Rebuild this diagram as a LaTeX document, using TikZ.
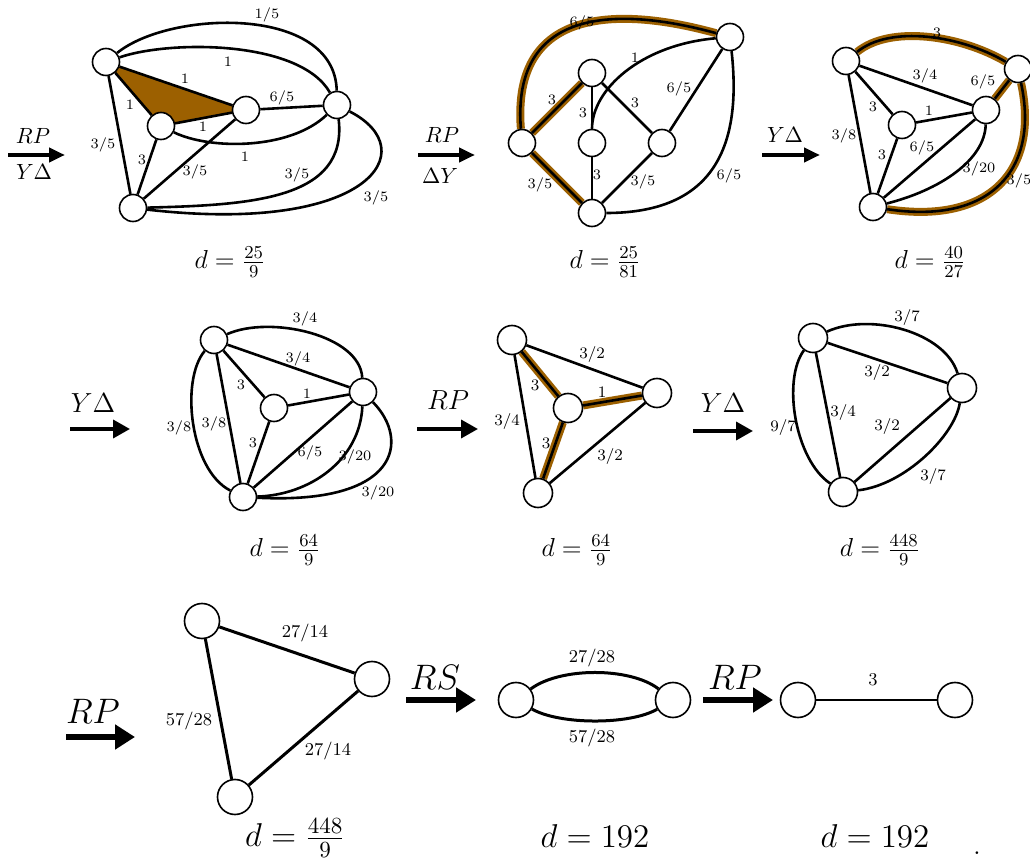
\RequirePackage{fix-cm}
\documentclass[tikz,border=0pt]{standalone}
\usetikzlibrary{arrows.meta,backgrounds}
\definecolor{brownhl}{RGB}{156,96,0}
\begin{document}
\begin{tikzpicture}[x=0.5pt,y=-0.5pt,
  v/.style={circle,draw,fill=white,line width=0.8pt,inner sep=0pt,minimum size=13.5pt},
  vb/.style={v,minimum size=14.5pt},
  vc/.style={v,minimum size=17.5pt},
  e/.style={line width=1.3pt},
  ec/.style={line width=1.5pt},
  hl/.style={draw=brownhl,line width=4pt},
  la/.style={font=\fontsize{7.2}{8}\selectfont,inner sep=0pt},
  lb/.style={font=\fontsize{8}{9}\selectfont,inner sep=0pt},
  lc/.style={font=\fontsize{9}{10}\selectfont,inner sep=0pt},
  opa/.style={font=\fontsize{11}{13}\selectfont,inner sep=0pt},
  opb/.style={font=\fontsize{13.8}{16}\selectfont,inner sep=0pt},
  opc/.style={font=\fontsize{17.7}{20}\selectfont,inner sep=0pt},
  ra/.style={-{Triangle[length=8pt,width=7pt]},line width=2pt},
  rb/.style={-{Triangle[length=8.5pt,width=9pt]},line width=1.8pt},
  rc/.style={-{Triangle[length=10pt,width=12pt]},line width=3pt},
  dl/.style={font=\fontsize{13}{15}\selectfont,inner sep=0pt},
  dc/.style={font=\fontsize{16.5}{19}\selectfont,inner sep=0pt}]
\useasboundingbox (0,0) rectangle (1030,861);

% ---------- Row 1, graph 1 ----------
\node[v] (a1) at (106,62) {};
\node[v] (b1) at (161,126) {};
\node[v] (c1) at (246,110) {};
\node[v] (d1) at (337,105) {};
\node[v] (e1) at (133,208) {};
\begin{scope}[on background layer]
\fill[brownhl] (a1.center) -- (b1.center) -- (c1.center) -- cycle;
\draw[e] (a1) -- (c1);
\draw[e] (a1) -- (b1);
\draw[e] (b1) -- (c1);
\draw[e] (a1) -- (e1);
\draw[e] (b1) -- (e1);
\draw[e] (c1) -- (e1);
\draw[e] (c1) -- (d1);
\draw[e] (a1) .. controls (170,10) and (335,5) .. (d1);
\draw[e] (a1) .. controls (170,40) and (300,40) .. (d1);
\draw[e] (b1) .. controls (210,150) and (290,150) .. (d1);
\draw[e] (d1) .. controls (348,200) and (250,205) .. (e1);
\draw[e] (d1) .. controls (425,150) and (370,235) .. (e1);
\end{scope}
\node[la] (l1a) at (267,15) {1/5};
\node[la] (l1b) at (228,62) {1};
\node[la] (l1c) at (185,79) {1};
\node[la] (l1d) at (130,105) {1};
\node[la] (l1e) at (282,98) {6/5};
\node[la] (l1f) at (203,127) {1};
\node[la] (l1g) at (245,157) {1};
\node[la] (l1h) at (103,145) {3/5};
\node[la] (l1i) at (142,160) {3};
\node[la] (l1j) at (195,172) {3/5};
\node[la] (l1k) at (297,175) {3/5};
\node[la] (l1l) at (376,198) {3/5};

% ---------- Row 1, graph 2 ----------
\node[v] (l2) at (522,143) {};
\node[v] (t2) at (592,73) {};
\node[v] (m2) at (592,143) {};
\node[v] (r2) at (662,143) {};
\node[v] (q2) at (730,37) {};
\node[v] (b2) at (592,213) {};
\begin{scope}[on background layer]
\draw[hl] (l2) .. controls (510,-10) and (650,15) .. (q2);
\draw[hl] (l2) -- (t2);
\draw[hl] (l2) -- (b2);
\draw[e] (l2) .. controls (510,-10) and (650,15) .. (q2);
\draw[e] (l2) -- (t2);
\draw[e] (l2) -- (b2);
\draw[e] (t2) -- (m2);
\draw[e] (t2) -- (r2);
\draw[e] (m2) -- (b2);
\draw[e] (r2) -- (q2);
\draw[e] (r2) -- (b2);
\draw[e] (m2) .. controls (592,90) and (640,45) .. (q2);
\draw[e] (b2) .. controls (715,213) and (742,145) .. (q2);
\end{scope}
\node[la] (l2a) at (582,23) {6/5};
\node[la] (l2b) at (635,58) {1};
\node[la] (l2c) at (552,100) {3};
\node[la] (l2d) at (583,113) {3};
\node[la] (l2e) at (635,103) {3};
\node[la] (l2f) at (679,89) {6/5};
\node[la] (l2g) at (540,185) {3/5};
\node[la] (l2h) at (597,175) {3};
\node[la] (l2i) at (643,182) {3/5};
\node[la] (l2j) at (729,176) {6/5};

% ---------- Row 1, graph 3 ----------
\node[v] (p3) at (846,61) {};
\node[v] (i3) at (902,125) {};
\node[v] (c3) at (986,110) {};
\node[v] (r3) at (1018,69) {};
\node[v] (b3) at (873,207) {};
\begin{scope}[on background layer]
\draw[hl] (p3) .. controls (890,25) and (960,35) .. (r3);
\draw[hl] (c3) -- (r3);
\draw[hl] (r3) .. controls (1040,170) and (990,225) .. (b3);
\draw[e] (p3) .. controls (890,25) and (960,35) .. (r3);
\draw[e] (c3) -- (r3);
\draw[e] (r3) .. controls (1040,170) and (990,225) .. (b3);
\draw[e] (p3) -- (c3);
\draw[e] (p3) -- (i3);
\draw[e] (p3) -- (b3);
\draw[e] (i3) -- (c3);
\draw[e] (i3) -- (b3);
\draw[e] (c3) -- (b3);
\draw[e] (c3) .. controls (985,160) and (940,190) .. (b3);
\end{scope}
\node[la] (l3a) at (937,33) {3};
\node[la] (l3b) at (925,76) {3/4};
\node[la] (l3c) at (983,82) {6/5};
\node[la] (l3d) at (873,107) {3};
\node[la] (l3e) at (929,111) {1};
\node[la] (l3f) at (844,136) {3/8};
\node[la] (l3g) at (882,155) {3};
\node[la] (l3h) at (922,148) {6/5};
\node[la] (l3i) at (979,169) {3/20};
\node[la] (l3j) at (1019,181) {3/5};

% ---------- Row 2, graph 4 ----------
\node[v] (p4) at (214,340) {};
\node[v] (i4) at (274,408) {};
\node[v] (r4) at (363,392) {};
\node[v] (b4) at (243,497) {};
\begin{scope}[on background layer]
\draw[e] (p4) .. controls (270,315) and (360,335) .. (r4);
\draw[e] (p4) -- (r4);
\draw[e] (p4) -- (i4);
\draw[e] (p4) -- (b4);
\draw[e] (p4) .. controls (180,380) and (190,470) .. (b4);
\draw[e] (i4) -- (r4);
\draw[e] (i4) -- (b4);
\draw[e] (r4) -- (b4);
\draw[e] (r4) .. controls (360,460) and (310,495) .. (b4);
\draw[e] (r4) .. controls (410,440) and (400,505) .. (b4);
\end{scope}
\node[la] (l4a) at (305,319) {3/4};
\node[la] (l4b) at (298,359) {3/4};
\node[la] (l4c) at (241,385) {3};
\node[la] (l4d) at (307,394) {1};
\node[la] (l4e) at (179,428) {3/8};
\node[la] (l4f) at (214,424) {3/8};
\node[la] (l4g) at (253,443) {3};
\node[la] (l4h) at (310,453) {6/5};
\node[la] (l4i) at (355,457) {3/20};
\node[la] (l4j) at (378,493) {3/20};

% ---------- Row 2, graph 5 ----------
\node[vb] (p5) at (512,340) {};
\node[vb] (i5) at (568,408) {};
\node[vb] (r5) at (657,393) {};
\node[vb] (b5) at (538,493) {};
\begin{scope}[on background layer]
\draw[hl] (p5) -- (i5);
\draw[hl] (i5) -- (r5);
\draw[hl] (i5) -- (b5);
\draw[e] (p5) -- (i5);
\draw[e] (i5) -- (r5);
\draw[e] (i5) -- (b5);
\draw[e] (p5) -- (r5);
\draw[e] (p5) -- (b5);
\draw[e] (r5) -- (b5);
\end{scope}
\node[lb] (l5a) at (592,355) {3/2};
\node[lb] (l5b) at (535,385) {3};
\node[lb] (l5c) at (602,392) {1};
\node[lb] (l5d) at (507,422) {3/4};
\node[lb] (l5e) at (546,443) {3};
\node[lb] (l5f) at (610,457) {3/2};

% ---------- Row 2, graph 6 ----------
\node[vb] (p6) at (813,338) {};
\node[vb] (r6) at (962,388) {};
\node[vb] (b6) at (843,492) {};
\begin{scope}[on background layer]
\draw[e] (p6) .. controls (870,312) and (945,332) .. (r6);
\draw[e] (p6) -- (r6);
\draw[e] (p6) -- (b6);
\draw[e] (p6) .. controls (782,380) and (795,460) .. (b6);
\draw[e] (r6) -- (b6);
\draw[e] (r6) .. controls (955,435) and (905,485) .. (b6);
\end{scope}
\node[lb] (l6a) at (907,318) {3/7};
\node[lb] (l6b) at (877,373) {3/2};
\node[lb] (l6c) at (843,413) {3/4};
\node[lb] (l6d) at (783,428) {9/7};
\node[lb] (l6e) at (887,427) {3/2};
\node[lb] (l6f) at (933,477) {3/7};

% ---------- Row 3 ----------
\node[vc] (p7) at (202,621) {};
\node[vc] (r7) at (372,679) {};
\node[vc] (b7) at (235,797) {};
\begin{scope}[on background layer]
\draw[ec] (p7) -- (r7);
\draw[ec] (p7) -- (b7);
\draw[ec] (r7) -- (b7);
\end{scope}
\node[lc] (l7a) at (305,633) {27/14};
\node[lc] (l7b) at (189,721) {57/28};
\node[lc] (l7c) at (328,751) {27/14};

\node[vc] (l8) at (516,700) {};
\node[vc] (r8) at (673,700) {};
\begin{scope}[on background layer]
\draw[ec] (l8) .. controls (560,667) and (630,667) .. (r8);
\draw[ec] (l8) .. controls (560,725) and (630,725) .. (r8);
\end{scope}
\node[lc] (l8a) at (592,658) {27/28};
\node[lc] (l8b) at (592,738) {57/28};

\node[vc] (l9) at (798,700) {};
\node[vc] (r9) at (955,700) {};
\begin{scope}[on background layer]
\draw[e] (l9) -- (r9);
\end{scope}
\node[lc] (l9a) at (873,680) {3};

% ---------- operation arrows ----------
\coordinate (s1) at (8,155);   \coordinate (t1) at (65,155);
\coordinate (s2) at (418,155); \coordinate (t2e) at (475,155);
\coordinate (s3) at (762,155); \coordinate (t3) at (820,155);
\coordinate (s4) at (70,429);  \coordinate (t4) at (130,429);
\coordinate (s5) at (417,429); \coordinate (t5) at (478,429);
\coordinate (s6) at (693,431); \coordinate (t6) at (753,431);
\coordinate (s7) at (66,737);  \coordinate (t7) at (135,737);
\coordinate (s8) at (406,700); \coordinate (t8) at (476,700);
\coordinate (s9) at (703,700); \coordinate (t9) at (773,700);
\draw[ra] (s1) -- (t1);
\draw[ra] (s2) -- (t2e);
\draw[ra] (s3) -- (t3);
\draw[rb] (s4) -- (t4);
\draw[rb] (s5) -- (t5);
\draw[rb] (s6) -- (t6);
\draw[rc] (s7) -- (t7);
\draw[rc] (s8) -- (t8);
\draw[rc] (s9) -- (t9);
\node[opa] (o1a) at (33,136) {$RP$};
\node[opa] (o1b) at (34,172) {$Y\Delta$};
\node[opa] (o2a) at (442,135) {$RP$};
\node[opa] (o2b) at (440,176) {$\Delta Y$};
\node[opa] (o3) at (785,135) {$Y\Delta$};
\node[opb] (o4) at (93,403) {$Y\Delta$};
\node[opb] (o5) at (448,400) {$RP$};
\node[opb] (o6) at (723,403) {$Y\Delta$};
\node[opc] (o7) at (93,711) {$RP$};
\node[opc] (o8) at (435,677) {$RS$};
\node[opc] (o9) at (735,677) {$RP$};

% ---------- d values ----------
\node[dl] (d1v) at (230,262) {$d=\frac{25}{9}$};
\node[dl] (d2v) at (605,262) {$d=\frac{25}{81}$};
\node[dl] (d3v) at (930,262) {$d=\frac{40}{27}$};
\node[dl] (d4v) at (285,550) {$d=\frac{64}{9}$};
\node[dl] (d5v) at (577,550) {$d=\frac{64}{9}$};
\node[dl] (d6v) at (880,550) {$d=\frac{448}{9}$};
\node[dc] (d7v) at (295,838) {$d=\frac{448}{9}$};
\node[dc] (d8v) at (595,836) {$d=192$};
\node[dc] (d9v) at (875,836) {$d=192$};
\node[dc] (dot) at (977,853) {.};
\end{tikzpicture}
\end{document}
